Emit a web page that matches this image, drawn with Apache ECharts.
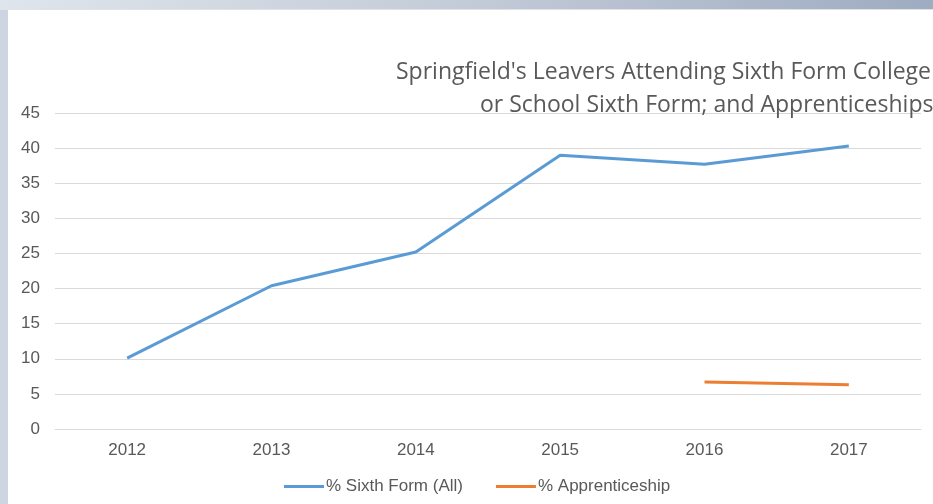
<!DOCTYPE html>
<html>
<head>
<meta charset="utf-8">
<script src="https://cdn.jsdelivr.net/npm/echarts@6/dist/echarts.min.js"></script>
<style>html,body{margin:0;padding:0;background:#fff;}#c{width:933px;height:504px;}</style>
</head>
<body>
<div id="c"></div>
<script>
var categories = ['2012', '2013', '2014', '2015', '2016', '2017'];
var sixthForm = [10.1, 20.4, 25.2, 39.0, 37.7, 40.3];
var apprenticeship = [null, null, null, null, 6.7, 6.3];
var yTicks = {min: 0, max: 45, interval: 5};
var titleLine1 = "Springfield's Leavers Attending Sixth Form College";
var titleLine2 = "or School Sixth Form; and Apprenticeships";

var titleStyle = {fontFamily: 'Open Sans', fontWeight: 'normal', fontSize: 23, color: '#595959', lineHeight: 32};
var labelStyle = {fontFamily: 'Liberation Sans', fontSize: 17, color: '#595959'};

var chart = echarts.init(document.getElementById('c'), null, {renderer: 'canvas'});
chart.setOption({
  backgroundColor: '#ffffff',
  animation: false,
  graphic: [
    {type: 'rect', z: -10, silent: true, shape: {x: 0, y: 0, width: 933, height: 10},
     style: {fill: new echarts.graphic.LinearGradient(0, 0, 1, 0, [
       {offset: 0, color: '#dfe5ec'}, {offset: 0.5, color: '#c3cbd8'}, {offset: 1, color: '#9eacc1'}])}},
    {type: 'rect', z: -10, silent: true, shape: {x: 0, y: 9, width: 933, height: 1}, style: {fill: '#e2e2e2'}},
    {type: 'rect', z: -10, silent: true, shape: {x: 0, y: 10, width: 8, height: 494}, style: {fill: '#cdd5e0'}}
  ],
  title: [
    {text: titleLine1, left: 396, top: 56, padding: 0, textStyle: titleStyle},
    {text: titleLine2, left: 480, top: 89, padding: 0, textStyle: titleStyle}
  ],
  grid: {left: 55, right: 12, top: 113, bottom: 75, containLabel: false},
  xAxis: {
    type: 'category',
    data: categories,
    boundaryGap: true,
    axisLine: {show: true, lineStyle: {color: '#d9d9d9', width: 1}},
    axisTick: {show: false},
    axisLabel: Object.assign({margin: 13}, labelStyle)
  },
  yAxis: {
    type: 'value',
    min: yTicks.min, max: yTicks.max, interval: yTicks.interval,
    axisLine: {show: false},
    axisTick: {show: false},
    splitLine: {lineStyle: {color: '#d9d9d9', width: 1}},
    axisLabel: Object.assign({margin: 15}, labelStyle)
  },
  legend: {
    top: 478,
    left: 284,
    padding: 0,
    itemWidth: 40,
    itemHeight: 3,
    itemGap: 33,
    icon: 'rect',
    textStyle: Object.assign({padding: [0, 0, 0, -3]}, labelStyle),
    data: ['% Sixth Form (All)', '% Apprenticeship']
  },
  series: [
    {name: '% Sixth Form (All)', type: 'line', data: sixthForm, symbol: 'none', showSymbol: false,
     lineStyle: {color: '#5b9bd5', width: 3}, itemStyle: {color: '#5b9bd5'}},
    {name: '% Apprenticeship', type: 'line', data: apprenticeship, symbol: 'none', showSymbol: false,
     lineStyle: {color: '#ed7d31', width: 3}, itemStyle: {color: '#ed7d31'}}
  ]
});
</script>
</body>
</html>
